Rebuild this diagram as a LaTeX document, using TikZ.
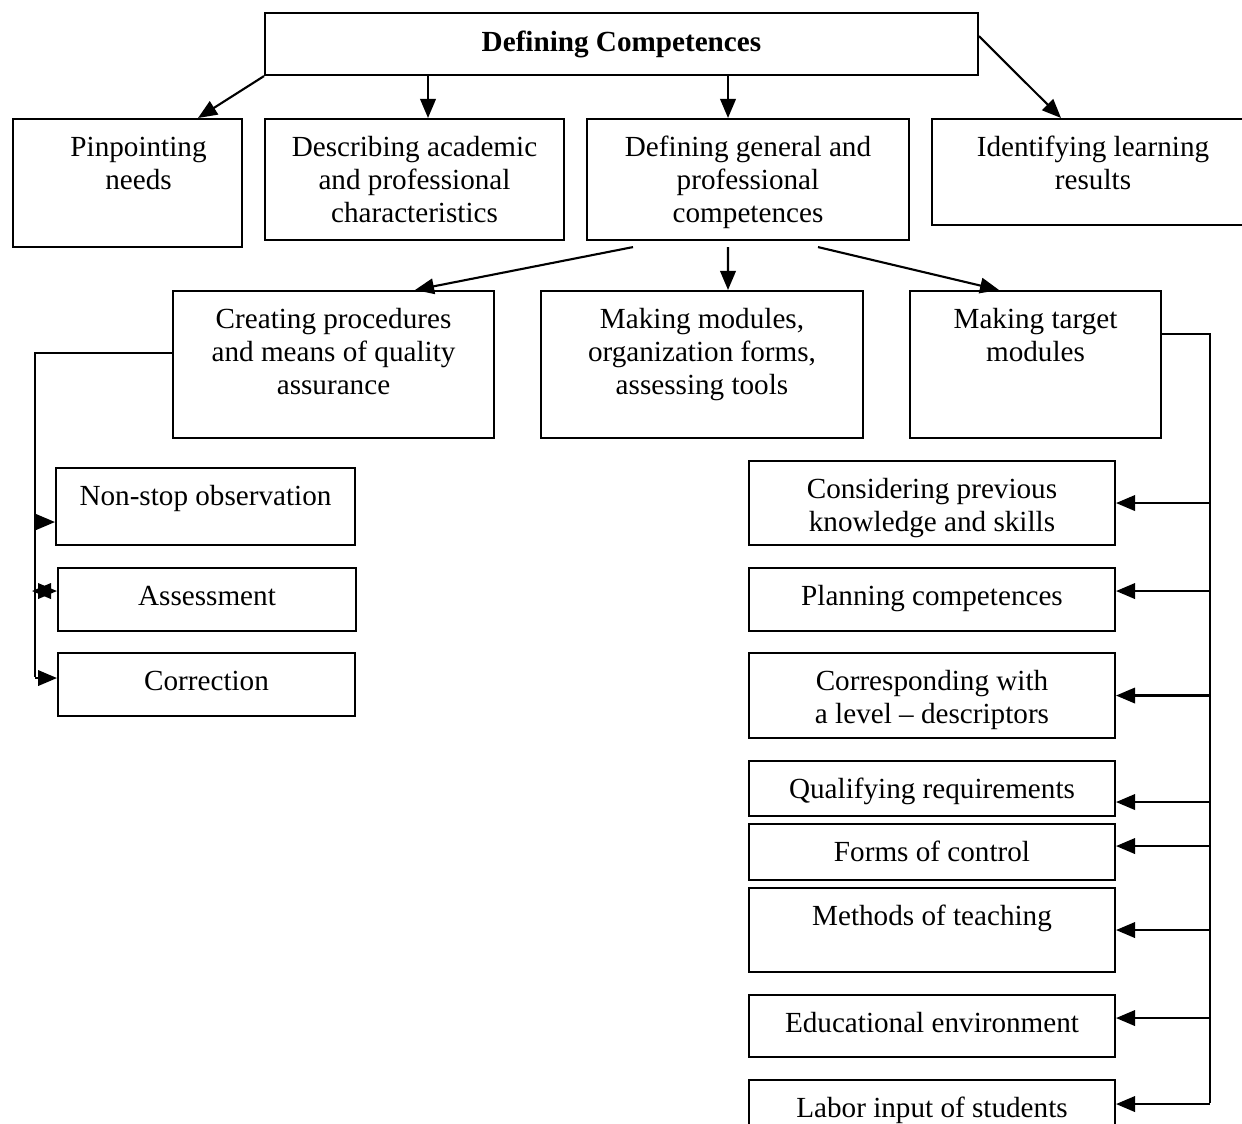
\documentclass[tikz,border=0pt]{standalone}
\usepackage{fontspec}
\setmainfont{Liberation Serif}
\usetikzlibrary{arrows.meta}

\newlength\pxu
\setlength\pxu{0.2mm}
% box text: width, height (in px), text set from the top
\newcommand{\boxtext}[3]{\parbox[t][#2\pxu][t]{#1\pxu}{\centering\rule{0pt}{21.5pt}#3}}

\tikzset{
  box/.style={draw, line width=1.2pt, inner sep=0pt, anchor=north west},
  arr/.style={line width=1.2pt, -{Triangle[length=3.8mm,width=3.1mm]}},
  revarr/.style={line width=1.2pt, -{Triangle[length=3.8mm,width=3.1mm,reversed]}},
  bus/.style={line width=1.2pt}
}

\begin{document}
\begin{tikzpicture}[x=0.02cm,y=-0.02cm,font=\fontsize{16.6}{18.7}\selectfont]
\clip (0,0) rectangle (1242,1124);

% top
\node[box] (def) at (264,12) {\parbox[c][62\pxu][c]{713\pxu}{\centering\textbf{Defining Competences}}};

% first row
\node[box] (pin) at (12,118) {\boxtext{229}{128}{\leftskip=22\pxu plus 1fil Pinpointing\\needs}};
\node[box] (desc) at (264,118) {\boxtext{299}{121}{Describing academic\\and professional\\characteristics}};
\node[box] (gen) at (586,118) {\boxtext{322}{121}{Defining general and\\professional\\competences}};
\node[box] (ident) at (931,118) {\boxtext{322}{106}{Identifying learning\\results}};

% second row
\node[box] (proc) at (172,290) {\boxtext{321}{147}{Creating procedures\\and means of quality\\assurance}};
\node[box] (mods) at (540,290) {\boxtext{322}{147}{Making modules,\\organization forms,\\assessing tools}};
\node[box] (targ) at (909,290) {\boxtext{251}{147}{Making target\\modules}};

% quality assurance
\node[box] (obs) at (55,467) {\boxtext{299}{77}{Non-stop observation}};
\node[box] (ass) at (57,567) {\boxtext{298}{63}{Assessment}};
\node[box] (cor) at (57,652) {\boxtext{297}{63}{Correction}};

% target modules
\node[box] (cons) at (748,460) {\boxtext{366}{84}{Considering previous\\knowledge and skills}};
\node[box] (plan) at (748,567) {\boxtext{366}{63}{Planning competences}};
\node[box] (corr) at (748,652) {\boxtext{366}{85}{Corresponding with\\a level -- descriptors}};
\node[box] (qual) at (748,760) {\boxtext{366}{55}{Qualifying requirements}};
\node[box] (form) at (748,823) {\boxtext{366}{56}{Forms of control}};
\node[box] (meth) at (748,887) {\boxtext{366}{84}{Methods of teaching}};
\node[box] (edu) at (748,994) {\boxtext{366}{62}{Educational environment}};
\node[box] (lab) at (748,1079) {\boxtext{366}{60}{Labor input of students}};

\draw[arr] (def.south west) -- ([xshift=1.41cm]pin.north);
\draw[arr] ([xshift=0.27cm]desc.north |- def.south) -- ([xshift=0.27cm]desc.north);
\draw[arr] ([xshift=-0.4cm]gen.north |- def.south) -- ([xshift=-0.4cm]gen.north);
\draw[arr] ([yshift=0.16cm]def.east) -- ([xshift=-0.64cm]ident.north);

\draw[arr] ([xshift=-2.3cm,yshift=-0.12cm]gen.south) -- ([xshift=1.63cm]proc.north);
\draw[arr] ([xshift=-0.4cm,yshift=-0.12cm]gen.south) -- ([xshift=0.52cm]mods.north);
\draw[arr] ([xshift=1.4cm,yshift=-0.12cm]gen.south) -- ([xshift=-0.73cm]targ.north);

% left bus
\coordinate (lbus) at (35,677);
\draw[bus] ([yshift=0.23cm]proc.west) -| (lbus);
\foreach \n/\s in {obs/-0.31, ass/0.17, cor/0.13}
  \draw[arr] ([yshift=\s cm]\n.west -| lbus) -- ([yshift=\s cm]\n.west);
\draw[revarr] ([yshift=0.17cm]ass.west -| lbus) -- ([xshift=-1.2mm,yshift=0.17cm]ass.west);

% right bus
\coordinate (rbus) at (1210,1103);
\draw[bus] ([yshift=0.61cm]targ.east) -| (rbus);
\foreach \n/\s in {cons/0, plan/0.17, corr/0, qual/-0.27, form/0.12, meth/0, edu/0.16, lab/0.12}
  \draw[arr] ([yshift=\s cm]\n.east -| rbus) -- ([yshift=\s cm]\n.east);
\end{tikzpicture}
\end{document}
